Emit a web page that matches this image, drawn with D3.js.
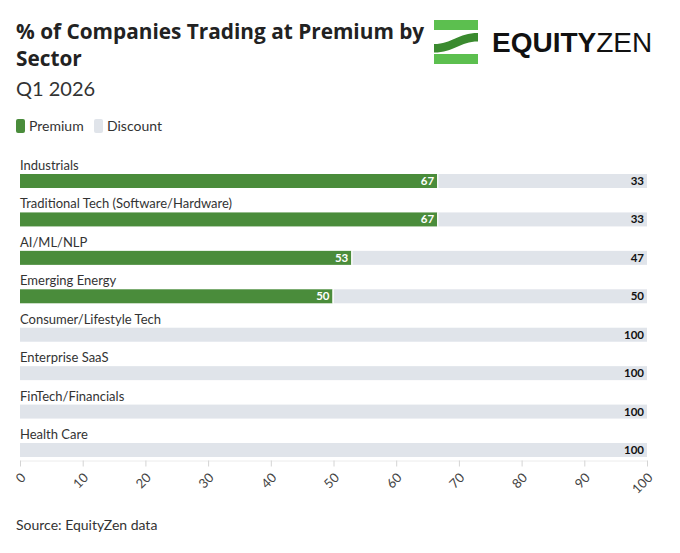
<!DOCTYPE html>
<html>
<head>
<meta charset="utf-8">
<script src="https://cdn.jsdelivr.net/npm/d3@7"></script>
<style>
  body { margin: 0; background: #fff; }
  svg { font-family: Lato, "Noto Sans", sans-serif; }
</style>
</head>
<body>
<svg width="680" height="553"></svg>
<script>
var sectors = ["Industrials", "Traditional Tech (Software/Hardware)", "AI/ML/NLP", "Emerging Energy",
  "Consumer/Lifestyle Tech", "Enterprise SaaS", "FinTech/Financials", "Health Care"];
var premium = [66.7, 66.7, 53, 50, 0, 0, 0, 0];
var discount = [33.3, 33.3, 47, 50, 100, 100, 100, 100];
var ticks = [0, 10, 20, 30, 40, 50, 60, 70, 80, 90, 100];

var greenColor = "#4a8c3b", greyColor = "#e0e4ea";

var svg = d3.select("svg");

// title block
svg.append("text").attr("x", 16).attr("y", 39)
  .attr("font-family", "'Open Sans', sans-serif")
  .attr("font-size", 20.8).attr("font-weight", 700).attr("fill", "#222")
  .text("% of Companies Trading at Premium by");
svg.append("text").attr("x", 16).attr("y", 66)
  .attr("font-family", "'Open Sans', sans-serif")
  .attr("font-size", 20.8).attr("font-weight", 700).attr("fill", "#222")
  .text("Sector");
svg.append("text").attr("x", 16).attr("y", 96)
  .attr("font-size", 20).attr("fill", "#333")
  .text("Q1 2026");

// logo
var logo = svg.append("g");
logo.append("rect").attr("x", 434).attr("y", 20).attr("width", 44).attr("height", 10).attr("fill", "#5cbf4f");
logo.append("rect").attr("x", 434).attr("y", 54).attr("width", 44).attr("height", 10).attr("fill", "#5cbf4f");
logo.append("path")
  .attr("d", "M434,44 C452,44 458,33 478,33 L478,41.5 C460,41.5 454,52.5 434,52.5 Z")
  .attr("fill", "#3a8a2f");
logo.append("text").attr("x", 492).attr("y", 52)
  .attr("font-size", 28).attr("fill", "#111")
  .attr("font-family", "'Liberation Sans', sans-serif")
  .call(function(t) {
    t.append("tspan").attr("font-weight", 700).text("EQUITY");
    t.append("tspan").attr("font-weight", 400).text("ZEN");
  });

// legend
var legend = svg.append("g").attr("transform", "translate(16,119)");
[["Premium", greenColor], ["Discount", greyColor]].forEach(function(d, i) {
  var lx = i == 0 ? 0 : 78;
  legend.append("rect").attr("x", lx).attr("y", 0).attr("width", 9).attr("height", 14)
    .attr("rx", 2).attr("fill", d[1]);
  legend.append("text").attr("x", lx + 13).attr("y", 12)
    .attr("font-size", 14).attr("fill", "#333").text(d[0]);
});

var x = d3.scaleLinear().domain([0, 100]).range([20, 647]);
var y = d3.scaleBand().domain(sectors).range([140.5, 140.5 + 8 * 38.43]);
var barH = 14;

var rows = sectors.map(function(s, i) {
  return { name: s, premium: premium[i], discount: discount[i] };
});

var row = svg.selectAll(".row").data(rows).enter().append("g").attr("class", "row");

row.append("text")
  .attr("x", 20).attr("y", function(d) { return y(d.name) + 29.5; })
  .attr("font-size", 13).attr("fill", "#333")
  .text(function(d) { return d.name; });

row.append("rect")
  .attr("x", function(d) { return x(d.premium); })
  .attr("y", function(d) { return y(d.name) + 33.5; })
  .attr("width", function(d) { return x(100) - x(d.premium); })
  .attr("height", barH).attr("fill", greyColor);

// premium segment, 1px white gap before the grey part
row.filter(function(d) { return d.premium > 0; }).append("rect")
  .attr("x", x(0))
  .attr("y", function(d) { return y(d.name) + 33.5; })
  .attr("width", function(d) { return x(d.premium) - x(0) - 1; })
  .attr("height", barH).attr("fill", greenColor);
row.filter(function(d) { return d.premium > 0; }).append("rect")
  .attr("x", function(d) { return x(d.premium) - 1; })
  .attr("y", function(d) { return y(d.name) + 33.5; })
  .attr("width", 1)
  .attr("height", barH).attr("fill", "#fff");

row.filter(function(d) { return d.premium > 0; }).append("text")
  .attr("x", function(d) { return x(d.premium) - 4; })
  .attr("y", function(d) { return y(d.name) + 33.5 + 11; })
  .attr("text-anchor", "end").attr("font-size", 11.5).attr("font-weight", 700).attr("fill", "#fff")
  .text(function(d) { return Math.round(d.premium); });

row.append("text")
  .attr("x", x(100) - 3)
  .attr("y", function(d) { return y(d.name) + 33.5 + 11; })
  .attr("text-anchor", "end").attr("font-size", 11.5).attr("font-weight", 700).attr("fill", "#111")
  .text(function(d) { return Math.round(d.discount); });

// axis
var axis = svg.append("g")
  .attr("transform", "translate(0,460.5)")
  .call(d3.axisBottom(x).tickValues(ticks).tickSize(6).tickSizeOuter(0));
axis.select(".domain").attr("stroke", "#ececec");
axis.selectAll(".tick line").attr("stroke", "#d4d4d4");
axis.selectAll(".tick text")
  .attr("font-family", "Lato, sans-serif").attr("font-size", 13).attr("fill", "#444")
  .attr("text-anchor", "end")
  .attr("dy", 0).attr("y", 0)
  .attr("transform", "translate(6,18) rotate(-45)");

svg.append("text").attr("x", 16).attr("y", 530)
  .attr("font-size", 14).attr("fill", "#333")
  .text("Source: EquityZen data");
</script>
</body>
</html>
